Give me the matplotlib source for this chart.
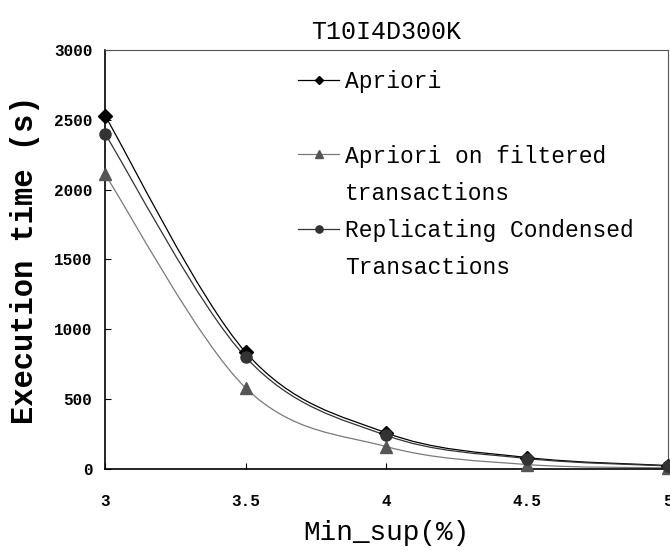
import numpy as np
import matplotlib
matplotlib.use("Agg")
import matplotlib.pyplot as plt
from matplotlib.path import Path
from matplotlib.patches import PathPatch
from matplotlib.lines import Line2D

min_sup = [3, 3.5, 4, 4.5, 5]
apriori = [2530, 835, 258, 82, 25]
apriori_filtered = [2110, 580, 160, 32, 8]
replicating = [2400, 800, 240, 75, 22]

x_range = (3, 5)
y_range = (0, 3000)
y_ticks = [0, 500, 1000, 1500, 2000, 2500, 3000]
x_ticks = [3, 3.5, 4, 4.5, 5]
x_tick_labels = ["3", "3.5", "4", "4.5", "5"]

FONT = "Liberation Mono"


def smooth_path(xs, ys):
    # Bezier spline through the points (same tension as Excel's smoothed lines),
    # control points computed in axis-normalised space
    sx = x_range[1] - x_range[0]
    sy = y_range[1] - y_range[0]
    pts = np.column_stack([np.asarray(xs, float) / sx, np.asarray(ys, float) / sy])
    n = len(pts)
    verts = [pts[0]]
    codes = [Path.MOVETO]
    for i in range(n - 1):
        p0 = pts[max(i - 1, 0)]
        p1 = pts[i]
        p2 = pts[i + 1]
        p3 = pts[min(i + 2, n - 1)]
        c1 = p1 + (p2 - p0) / 6.0
        c2 = p2 - (p3 - p1) / 6.0
        verts += [c1, c2, p2]
        codes += [Path.CURVE4] * 3
    verts = np.array(verts) * [sx, sy]
    return Path(verts, codes)


fig = plt.figure(figsize=(6.7, 5.53), dpi=100)
ax = fig.add_axes([0.1567, 0.1519, 0.8403, 0.7577])

series = [
    (apriori, "#000000", "#000000", "D", 7, "Apriori"),
    (apriori_filtered, "#7a7a7a", "#555555", "^", 9, "Apriori on filtered"),
    (replicating, "#333333", "#333333", "o", 8, "Replicating Condensed"),
]

handles = []
for ys, lc, mc, mk, ms, name in series:
    ax.add_patch(PathPatch(smooth_path(min_sup, ys), facecolor="none",
                           edgecolor=lc, lw=0.9, zorder=2))
    ax.plot(min_sup, ys, ls="none", marker=mk, ms=ms, color=mc, zorder=3,
            clip_on=False)
    handles.append(Line2D([], [], color=lc, lw=0.9, marker=mk, ms=ms * 0.65,
                          mfc=mc, mec=mc))

blank = Line2D([], [], color="none")
leg_handles = [handles[0], blank, handles[1], blank, handles[2], blank]
leg_labels = ["Apriori", " ", "Apriori on filtered", "transactions",
              "Replicating Condensed", "Transactions"]
ax.legend(leg_handles, leg_labels, loc="upper left",
          bbox_to_anchor=(0.343, 0.952), frameon=False, borderpad=0,
          borderaxespad=0, handlelength=1.8, handletextpad=0.25,
          labelspacing=0.62, prop={"family": FONT, "size": 16.5})

ax.set_xlim(*x_range)
ax.set_ylim(*y_range)
ax.set_xticks(x_ticks)
ax.set_xticklabels(x_tick_labels)
ax.set_yticks(y_ticks)
for lab in ax.get_xticklabels() + ax.get_yticklabels():
    lab.set_fontfamily(FONT)
    lab.set_fontweight("bold")
    lab.set_fontsize(11.5)
ax.tick_params(axis="y", direction="in", length=4, width=0.8, pad=9)
ax.tick_params(axis="x", direction="in", length=4, width=0.8, pad=18)
for side in ["left", "bottom"]:
    ax.spines[side].set_linewidth(1.2)
for side in ["top", "right"]:
    ax.spines[side].set_linewidth(0.8)
    ax.spines[side].set_color("#555555")

ax.set_title("T10I4D300K", fontfamily=FONT, fontsize=18, pad=8)
ax.set_xlabel("Min_sup(%)", fontfamily=FONT, fontsize=20, labelpad=8)
ax.set_ylabel("Execution time (s)", fontfamily=FONT, fontsize=22,
              fontweight="bold", labelpad=10)

fig.savefig("out.png", dpi=100)
